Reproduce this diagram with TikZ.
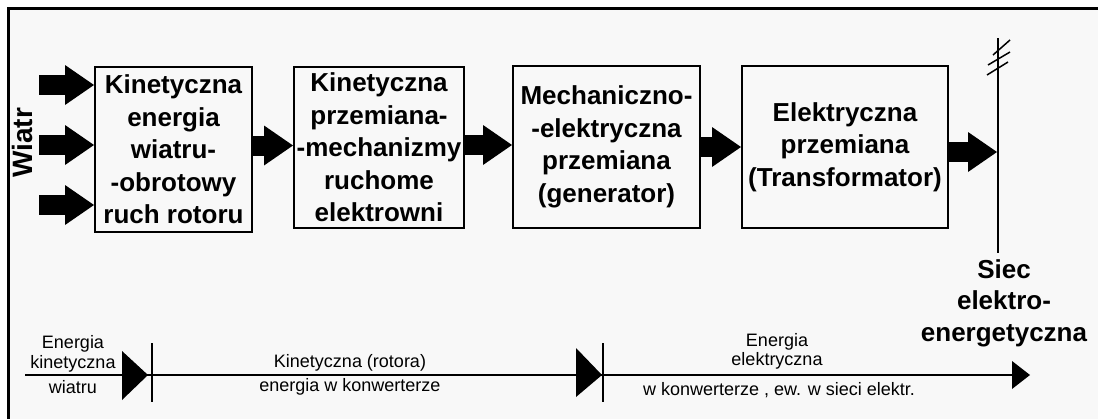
\documentclass[tikz,border=0pt]{standalone}
\usepackage{fontspec}
\setmainfont{Liberation Sans}
\usetikzlibrary{arrows.meta,calc}
\definecolor{bgc}{RGB}{248,248,248}
\begin{document}
\begin{tikzpicture}[x=1pt,y=-1pt,
  box/.style={draw, line width=2pt, inner sep=0pt, align=center,
    font=\fontsize{26}{32.5}\selectfont\bfseries},
  fat/.style={line width=20pt, -{Triangle[length=29pt,width=40pt,line width=0pt 0]}},
  small/.style={font=\fontsize{18}{19.5}\selectfont, align=center, inner sep=0pt},
  big/.style={font=\fontsize{26}{31.5}\selectfont\bfseries, align=center, inner sep=0pt},
  thin/.style={line width=2pt},
  tri/.style={fill=black}]
\useasboundingbox (0,0) rectangle (1098,418);
\fill[white] (0,0) rectangle (1098,418);
\fill[bgc] (8,8) rectangle (1110,430);
\draw[line width=3pt] (8,430) -- (8,8) -- (1110,8);

% boxes
\node[box, minimum width=157pt, minimum height=165pt] (b1) at (173.5,149.5)
  {Kinetyczna\\energia\\wiatru-\\-obrotowy\\ruch rotoru};
\node[box, minimum width=170pt, minimum height=161pt] (b2) at (379,147.5)
  {Kinetyczna\\przemiana-\\-mechanizmy\\ruchome\\elektrowni};
\node[box, minimum width=187pt, minimum height=162pt] (b3) at (606.5,147)
  {Mechaniczno-\\-elektryczna\\przemiana\\(generator)};
\node[box, minimum width=206pt, minimum height=162pt] (b4) at (845,147)
  {Elektryczna\\przemiana\\(Transformator)};

% wind
\node[rotate=90, font=\fontsize{28}{30}\selectfont\bfseries, inner sep=0pt] (w) at (22,143) {Wiatr};
\coordinate (i1) at (39,85);
\coordinate (i2) at (39,145);
\coordinate (i3) at (39,205);
\draw[fat] (i1) -- (i1 -| b1.west);
\draw[fat] (i2) -- (i2 -| b1.west);
\draw[fat] (i3) -- (i3 -| b1.west);

% arrows between boxes
\draw[fat] ([yshift=4pt]b1.east) -- ([yshift=4pt]b1.east -| b2.west);
\draw[fat] ([yshift=2.5pt]b2.east) -- ([yshift=2.5pt]b2.east -| b3.west);
\draw[fat] (b3.east) -- (b3.east -| b4.west);

% grid line
\coordinate (g1) at (998,38);
\coordinate (g2) at (998,253);
\draw[thin] (g1) -- (g2);
\draw[line width=1.5pt] (993,55) -- (1010,40) (988,65) -- (1010,52) (987,75) -- (1008,62);
\draw[fat, shorten >=1pt] ([yshift=-5pt]b4.east) -- ([yshift=-5pt]b4.east -| g1);
\node[big] (siec) at (1004,303) {Siec\\elektro-\\energetyczna};

% bottom energy line
\coordinate (bl) at (25,375);
\coordinate (br) at (1030,375);
\draw[thin, -{Triangle[length=18pt,width=28pt,line width=0pt 0]}] (bl) -- (br);
\fill[tri] (122,351) -- (148,375) -- (122,400) -- cycle;
\fill[tri] (576,348) -- (602,375) -- (576,397) -- cycle;
\draw[thin] (152,343) -- (152,402);
\draw[thin] (603,343) -- (603,402);

\node[small] (t1) at (73,354) {Energia\\kinetyczna};
\node[small] (t2) at (73,387) {wiatru};
\node[small] (t3) at (350,363) {Kinetyczna (rotora)};
\node[small] (t4) at (350,387) {energia w konwerterze};
\node[small] (t5) at (777,351.5) {Energia\\elektryczna};
\node[small] (t6) at (779,390) {w konwerterze , ew. w sieci elektr.};
\end{tikzpicture}
\end{document}
